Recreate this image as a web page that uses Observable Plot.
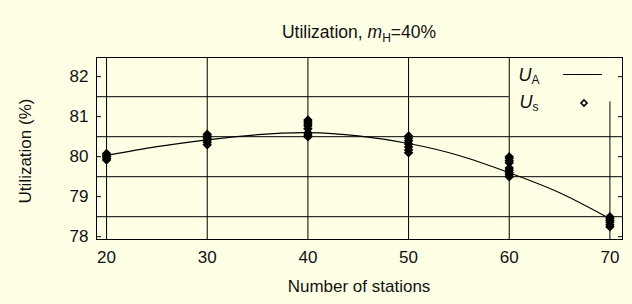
<!DOCTYPE html>
<html><head><meta charset="utf-8">
<script src="https://cdn.jsdelivr.net/npm/d3@7"></script>
<script src="https://cdn.jsdelivr.net/npm/@observablehq/plot@0.6"></script>
<style>
html,body{margin:0;padding:0;background:#FFFFE6;}
#chart{width:632px;height:304px;}
svg{display:block;}
</style></head><body><div id="chart"></div>
<script>
// Analytical utilization curve U_A
const curveX = [20, 25, 30, 35, 40, 45, 50, 55, 60, 65, 70];
const curveU = [80.03, 80.25, 80.42, 80.55, 80.6, 80.52, 80.33, 80.03, 79.6, 79.1, 78.45];

// Simulated utilization U_s at each number of stations
const stations = [20, 30, 40, 50, 60, 70];
const sim20 = [80.08, 80.05, 80.02, 80.0, 79.96, 79.92];
const sim30 = [80.56, 80.52, 80.47, 80.42, 80.36, 80.3];
const sim40 = [80.92, 80.87, 80.82, 80.77, 80.7, 80.6, 80.54, 80.5];
const sim50 = [80.52, 80.46, 80.4, 80.32, 80.24, 80.17, 80.1];
const sim60 = [80.0, 79.96, 79.9, 79.85, 79.72, 79.66, 79.6, 79.55, 79.5];
const sim70 = [78.5, 78.46, 78.41, 78.36, 78.3, 78.25];

const xTicks = [20, 30, 40, 50, 60, 70];
const yTicks = [78, 79, 80, 81, 82];
const hGrid = [78.5, 79.5, 80.5, 81.5];
const vGridFull = [20, 30, 40, 50, 60];
const vGridShort = [70];

const xDomain = [19, 71.25];
const yDomain = [77.93, 82.48];
const legendCover = [{x1: 60, x2: 71.25, y1: 81.37, y2: 82.48}];

const bg = "#FFFFE6";
const ink = "#000";

const curve = curveX.map((x, i) => ({x, u: curveU[i]}));
const simSets = [sim20, sim30, sim40, sim50, sim60, sim70];
const sims = [];
stations.forEach((s, i) => simSets[i].forEach(u => sims.push({x: s, u})));

const chart = Plot.plot({
  width: 632,
  height: 304,
  marginTop: 57,
  marginBottom: 65,
  marginLeft: 96,
  marginRight: 10,
  style: {background: bg, fontFamily: "Liberation Sans, Arial, sans-serif", fontSize: "17px", color: "#111"},
  x: {domain: xDomain, ticks: xTicks},
  y: {domain: yDomain, ticks: yTicks},
  marks: [
    Plot.ruleY(hGrid, {stroke: ink, strokeWidth: 1}),
    Plot.ruleX(vGridShort, {stroke: ink, strokeWidth: 1}),
    Plot.rect(legendCover, {x1: "x1", x2: "x2", y1: "y1", y2: "y2", fill: bg}),
    Plot.ruleX(vGridFull, {stroke: ink, strokeWidth: 1}),
    Plot.axisY({ticks: yTicks, tickFormat: d => String(d), tickSize: 0, tickPadding: 8, fontSize: 17, label: null}),
    Plot.axisY({ticks: yTicks, tickSize: -5, text: null, label: null, stroke: ink}),
    Plot.axisY({ticks: yTicks, anchor: "right", tickSize: -5, text: null, label: null, stroke: ink}),
    Plot.axisX({ticks: xTicks, tickFormat: d => String(d), tickSize: 0, tickPadding: 11, fontSize: 17, label: null}),
    Plot.line(curve, {x: "x", y: "u", curve: "natural", stroke: ink, strokeWidth: 1.2}),
    Plot.dot(sims, {x: "x", y: "u", symbol: "diamond2", r: 3, stroke: ink, strokeWidth: 2, fill: "none"}),
    Plot.frame({stroke: ink, strokeWidth: 1})
  ]
});

document.getElementById("chart").appendChild(chart);

const svg = d3.select(chart);
const font = "Liberation Sans, Arial, sans-serif";

// Title
const t = svg.append("text").attr("x", 359).attr("y", 38).attr("text-anchor", "middle")
  .attr("font-family", font).attr("font-size", 17.5).attr("fill", "#111");
t.append("tspan").text("Utilization, ");
t.append("tspan").attr("font-style", "italic").text("m");
t.append("tspan").attr("font-size", 12).attr("dy", 4).text("H");
t.append("tspan").attr("dy", -4).text("=40%");

// Axis titles
svg.append("text").attr("transform", "translate(25,151) rotate(-90)").attr("text-anchor", "middle")
  .attr("dy", "0.35em").attr("font-family", font).attr("font-size", 17).attr("fill", "#111")
  .text("Utilization (%)");
svg.append("text").attr("x", 359).attr("y", 292).attr("text-anchor", "middle")
  .attr("font-family", font).attr("font-size", 17).attr("fill", "#111")
  .text("Number of stations");

// Legend
const lg = svg.append("g").attr("font-family", font).attr("fill", "#111");
const l1 = lg.append("text").attr("x", 529).attr("y", 81).attr("font-size", 18);
l1.append("tspan").attr("font-style", "italic").text("U");
l1.append("tspan").attr("font-size", 12).attr("dy", 3).text("A");
lg.append("line").attr("x1", 563).attr("x2", 602).attr("y1", 74.5).attr("y2", 74.5)
  .attr("stroke", ink).attr("stroke-width", 1.2);
const l2 = lg.append("text").attr("x", 529).attr("y", 108).attr("font-size", 18);
l2.append("tspan").attr("font-style", "italic").text("U");
l2.append("tspan").attr("font-size", 12).attr("dy", 3).text("s");
lg.append("path").attr("d", "M584,100L587,103L584,106L581,103Z")
  .attr("fill", "none").attr("stroke", ink).attr("stroke-width", 1.6);
</script>
</body></html>
